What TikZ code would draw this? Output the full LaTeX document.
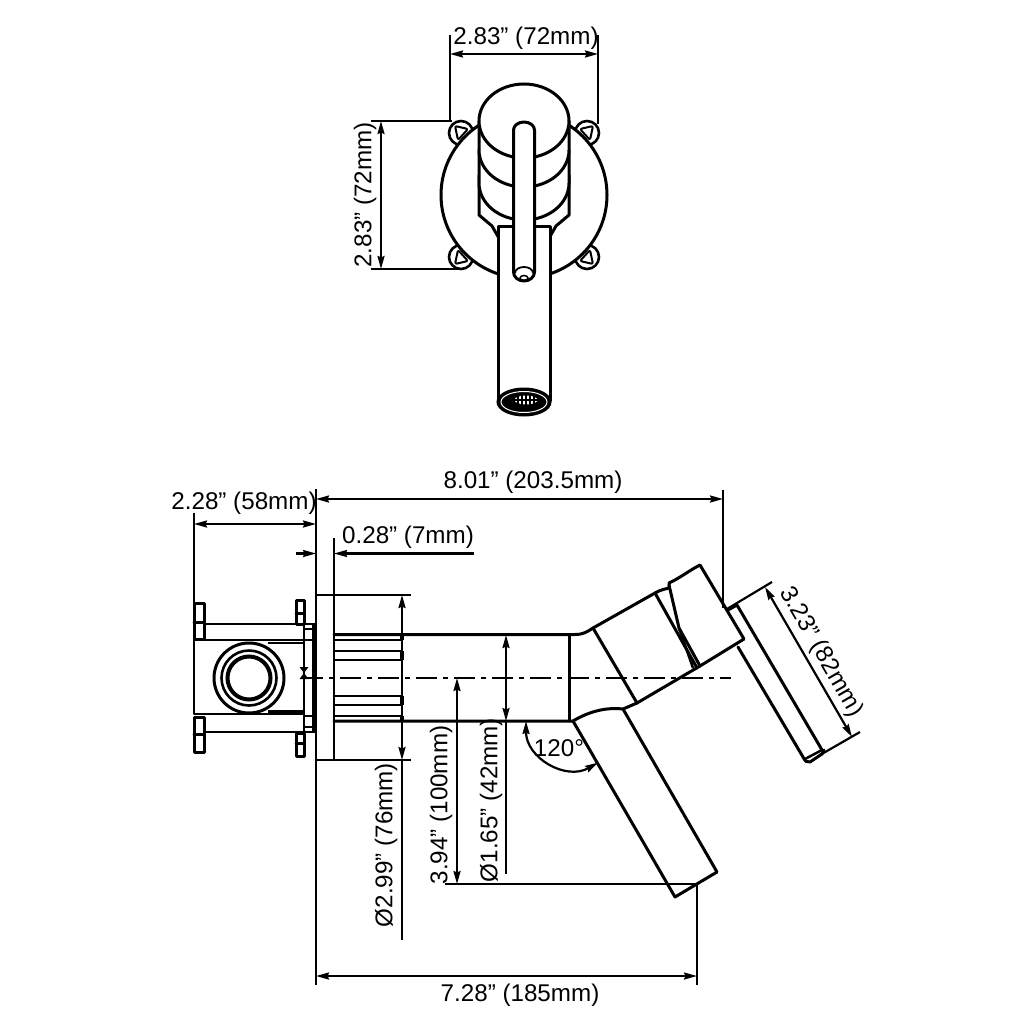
\documentclass[tikz,border=0pt]{standalone}
\usepackage{fontspec}
\setmainfont{Liberation Sans}
\usetikzlibrary{arrows.meta}
\tikzset{
  obj/.style={line width=3pt,line join=round,line cap=round},
  thinobj/.style={line width=2.5pt,line join=round},
  dimline/.style={line width=2.2pt,{Stealth[length=13pt,width=7pt,inset=1.5pt]}-{Stealth[length=13pt,width=7pt,inset=1.5pt]}},
  ext/.style={line width=2.2pt},
  txt/.style={font=\fontsize{24.2pt}{25pt}\selectfont,inner sep=0pt,text=black},
}
\newcommand{\earshape}[2]{%
  \draw[line width=2.6pt,fill=white] ({524+#1*(-63)},{195+#2*(-62)}) circle[radius=12pt];
  \draw[line width=2pt,line join=round,rounded corners=2pt] ({524+#1*(-69)},{195+#2*(-69)}) -- ({524+#1*(-56)},{195+#2*(-66)}) -- ({524+#1*(-66)},{195+#2*(-55)}) -- cycle;
}
\begin{document}
\begin{tikzpicture}[x=1pt,y=-1pt]
\useasboundingbox (0,0) rectangle (1024,1024);
\fill[white] (0,0) rectangle (1024,1024);
% ---------- top view ----------
\earshape{1}{1}\earshape{-1}{1}\earshape{1}{-1}\earshape{-1}{-1}
\draw[obj,fill=white] (524,195) circle[radius=83pt];
\draw[obj,fill=white] (479,175) -- (479,215) -- (492,226) -- (500,240) -- (548,240) -- (556,226) -- (569,215) -- (569,175) -- cycle;
\draw[obj,fill=white] (479,183) arc[start angle=180,end angle=360,x radius=45pt,y radius=37pt] -- (569,150) -- (479,150) -- cycle;
\draw[obj,fill=white] (479,150) arc[start angle=180,end angle=360,x radius=45pt,y radius=37pt] -- (569,121) -- (479,121) -- cycle;
\draw[obj,fill=white] (524,121) ellipse[x radius=45pt,y radius=37pt];
\draw[obj,fill=white] (498,401) -- (498,227) -- (550,227) -- (550,401);
\draw[line width=1pt,fill=black] (524,402) ellipse[x radius=27pt,y radius=14pt];
\draw[line width=1pt,white] (524,402) ellipse[x radius=23pt,y radius=10.5pt];
\fill[white] (526,400) ellipse[x radius=11.5pt,y radius=4.5pt];
\foreach \gx in {518,522,526,530,534}{\draw[black,line width=1.7pt] (\gx,394) -- (\gx,406);}
\draw[black,line width=1.5pt] (512,400) -- (540,400);
\draw[obj,fill=white] (513.5,130) arc[start angle=180,end angle=0,x radius=10.5pt,y radius=8pt] -- (534.5,272) arc[start angle=0,end angle=-180,x radius=10.5pt,y radius=9pt] -- cycle;
\draw[line width=1.8pt] (515,273) arc[start angle=180,end angle=0,x radius=9pt,y radius=6pt];
\draw[line width=1.5pt] (524,278) ellipse[x radius=4pt,y radius=2.5pt];
% top dims
\draw[ext] (450,35) -- (450,122);
\draw[ext] (598,35) -- (598,124);
\draw[dimline] (450,54) -- (598,54);
\draw[ext] (371,121) -- (452,121);
\draw[ext] (371,269) -- (462,269);
\draw[dimline] (381,121) -- (381,269);
\node[txt] (tw) at (526,38) {2.83” (72mm)};
\node[txt,rotate=90] (th) at (365,195) {2.83” (72mm)};
% ---------- side view: bracket ----------
\draw[obj] (194,603) rectangle (204,639);
\draw[obj] (194,622) -- (204,622);
\draw[obj] (194,717) rectangle (204,752);
\draw[obj] (194,734) -- (204,734);
\draw[obj] (296,600) rectangle (304,624);
\draw[obj] (296,613) -- (304,613);
\draw[obj] (296,733) rectangle (304,756);
\draw[obj] (296,743) -- (304,743);
\draw[thinobj] (204,624) -- (316,624);
\draw[thinobj] (204,732) -- (316,732);
\draw[thinobj] (194,640) rectangle (304,714);
\draw[thinobj] (268,643) -- (304,643);
\draw[thinobj] (268,711.5) -- (304,711.5);
\draw[thinobj] (304,624) -- (304,733);
\draw[thinobj] (304,629) -- (314,629);
\draw[thinobj] (304,640) -- (314,640);
\draw[thinobj] (304,716) -- (314,716);
\draw[thinobj] (304,727) -- (314,727);
\draw[line width=3.4pt] (314,624) -- (314,732);
\fill (299.5,667) -- (308.5,667) -- (304,673) -- (308.5,679) -- (299.5,679) -- (304,673) -- cycle;
\draw[obj,fill=white] (249,678) circle[radius=35pt];
\draw[line width=2.6pt] (249,678) circle[radius=27.5pt];
\draw[line width=4pt] (249,678) circle[radius=21.5pt];
% plate
\draw[line width=2.6pt] (316,489) -- (316,985);
\draw[line width=2.8pt] (334,538) -- (334,760);
\draw[ext] (316,595) -- (411,595);
\draw[ext] (316,760) -- (411,760);
% ribs
\foreach \ry in {640,651,660,696,705,716}{\draw[thinobj] (334,\ry) -- (401,\ry);}
\foreach \ra/\rb in {634/640,651/660,696/705,716/722}{\draw[line width=3.4pt] (402,\ra) -- (402,\rb);}
% body
\draw[obj] (334,634.5) -- (575,634.5) .. controls (583,634.5) and (587,632) .. (593,628) -- (655,593) .. controls (660,590) and (665,589) .. (669,588) -- (669,583) .. controls (680,578) and (690,570) .. (700,565) -- (744,639) -- (700,666) -- (637,703) -- (623,709) .. controls (605,707) and (588,712) .. (573,721) -- (334,721);
\draw[obj] (569,635) -- (569,721);
\draw[obj] (593,628) -- (637,703);
\draw[obj] (655,593) -- (697,668);
\draw[obj] (669,585) -- (679,628) -- (700,666);
\draw[thinobj] (679,628) -- (693,668);
\draw[obj] (573,721) -- (675,897) -- (717,872) -- (623,709);
% lever
\draw[obj] (728,610) -- (737,605) -- (822,750);
\draw[obj] (738,647) -- (803,757) .. controls (805,761) and (807,763) .. (810,762) -- (822,754) -- (824,750);
\draw[thinobj] (805,759) -- (822,750);
% center line
\draw[line width=2.4pt,dash pattern=on 21pt off 6pt on 5pt off 6pt] (302,678) -- (731,678);
% dims
\draw[ext] (194,513) -- (194,640);
\draw[dimline] (194,524) -- (316,524);
\node[txt] (a) at (244,503.5) {2.28” (58mm)};
\draw[line width=2.2pt,-{Stealth[length=13pt,width=7pt,inset=1.5pt]}] (296,553.5) -- (316,553.5);
\draw[line width=2.2pt,-{Stealth[length=13pt,width=7pt,inset=1.5pt]}] (474,553.5) -- (334,553.5);
\node[txt] (b) at (408,537) {0.28” (7mm)};
\draw[ext] (723,490) -- (723,608);
\draw[dimline] (316,499) -- (723,499);
\node[txt] (c) at (533,482) {8.01” (203.5mm)};
\draw[ext] (445,884) -- (697,884);
\draw[ext] (697,884) -- (697,985);
\draw[dimline] (316,976) -- (697,976);
\node[txt] (d) at (520,995) {7.28” (185mm)};
\draw[dimline] (402,595) -- (402,760);
\draw[ext] (402,760) -- (402,940);
\node[txt,rotate=90] (e) at (386,845) {Ø2.99” (76mm)};
\draw[dimline] (457,678) -- (457,884);
\node[txt,rotate=90] (f) at (441,805) {3.94” (100mm)};
\draw[dimline] (506,635) -- (506,721);
\draw[ext] (506,721) -- (506,874);
\node[txt,rotate=90] (g) at (491,800) {Ø1.65” (42mm)};
\draw[dimline] (526,721) .. controls (526,758) and (566,781) .. (598,762.6);
\node[txt] (h) at (559,748) {120°};
\draw[ext] (727,609) -- (772,582);
\draw[ext] (820,755) -- (860,732);
\draw[dimline] (765,587) -- (852,737);
\node[txt,rotate=-60] (i) at (821,652) {3.23” (82mm)};
\end{tikzpicture}
\end{document}
